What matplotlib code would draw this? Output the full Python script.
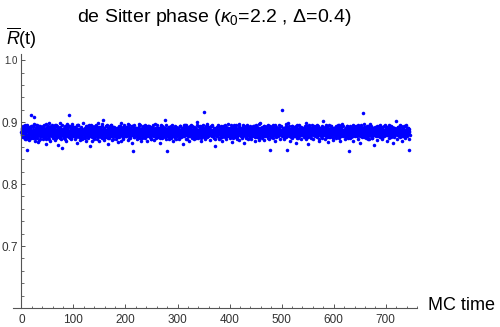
import numpy as np
import matplotlib
matplotlib.use('Agg')
import matplotlib.pyplot as plt
from matplotlib.ticker import MultipleLocator

plt.rcParams['font.family'] = ['Liberation Sans', 'DejaVu Sans']
plt.rcParams['mathtext.fontset'] = 'custom'
plt.rcParams['mathtext.rm'] = 'Liberation Sans'
plt.rcParams['mathtext.it'] = 'Liberation Sans:italic'

# R-bar(t) at whole MC time steps
r_bar = [
    0.884, 0.879, 0.891, 0.876, 0.887, 0.882, 0.894, 0.873, 0.886, 0.880, 0.855, 0.889, 0.877, 0.885, 0.892, 0.871, 0.883, 0.888, 0.875, 0.911,
    0.881, 0.886, 0.874, 0.893, 0.879, 0.909, 0.884, 0.870, 0.890, 0.882, 0.877, 0.895, 0.868, 0.887, 0.880, 0.885, 0.873, 0.891, 0.878, 0.884,
    0.889, 0.872, 0.883, 0.896, 0.876, 0.881, 0.888, 0.865, 0.885, 0.892, 0.879, 0.874, 0.887, 0.883, 0.898, 0.870, 0.882, 0.886, 0.877, 0.890,
    0.875, 0.884, 0.893, 0.880, 0.871, 0.887, 0.882, 0.895, 0.878, 0.885, 0.863, 0.889, 0.881, 0.876, 0.892, 0.884, 0.873, 0.886, 0.879, 0.858,
    0.888, 0.882, 0.874, 0.891, 0.885, 0.869, 0.883, 0.897, 0.878, 0.886, 0.880, 0.893, 0.911, 0.875, 0.884, 0.889, 0.872, 0.881, 0.894, 0.877,
    0.885, 0.879, 0.890, 0.873, 0.884, 0.887, 0.866, 0.882, 0.895, 0.880, 0.876, 0.888, 0.883, 0.871, 0.892, 0.878, 0.886, 0.881, 0.899, 0.874,
    0.883, 0.889, 0.877, 0.885, 0.870, 0.891, 0.880, 0.886, 0.874, 0.894, 0.882, 0.862, 0.887, 0.879, 0.884, 0.893, 0.876, 0.888, 0.881, 0.872,
    0.890, 0.884, 0.878, 0.896, 0.882, 0.873, 0.887, 0.880, 0.885, 0.869, 0.892, 0.877, 0.883, 0.889, 0.875, 0.886, 0.903, 0.879, 0.884, 0.871,
    0.881, 0.887, 0.893, 0.876, 0.885, 0.879, 0.864, 0.888, 0.882, 0.874, 0.890, 0.884, 0.878, 0.895, 0.880, 0.886, 0.872, 0.883, 0.889, 0.877,
    0.886, 0.873, 0.882, 0.891, 0.879, 0.885, 0.868, 0.888, 0.876, 0.894, 0.881, 0.884, 0.870, 0.887, 0.880, 0.892, 0.875, 0.883, 0.878, 0.889,
    0.884, 0.877, 0.890, 0.882, 0.871, 0.886, 0.879, 0.895, 0.883, 0.874, 0.888, 0.880, 0.866, 0.885, 0.892, 0.853, 0.881, 0.876, 0.887, 0.883,
    0.878, 0.891, 0.884, 0.872, 0.886, 0.880, 0.897, 0.875, 0.883, 0.889, 0.870, 0.885, 0.879, 0.893, 0.882, 0.876, 0.888, 0.874, 0.884, 0.890,
    0.881, 0.869, 0.887, 0.883, 0.894, 0.877, 0.885, 0.880, 0.892, 0.873, 0.886, 0.882, 0.878, 0.896, 0.884, 0.871, 0.889, 0.880, 0.875, 0.887,
    0.883, 0.891, 0.876, 0.884, 0.879, 0.888, 0.867, 0.885, 0.893, 0.881, 0.874, 0.890, 0.882, 0.877, 0.886, 0.904, 0.880, 0.872, 0.884, 0.853,
    0.889, 0.878, 0.885, 0.892, 0.873, 0.883, 0.887, 0.880, 0.876, 0.895, 0.882, 0.869, 0.886, 0.879, 0.891, 0.884, 0.874, 0.888, 0.881, 0.877,
    0.885, 0.890, 0.872, 0.883, 0.879, 0.894, 0.886, 0.876, 0.881, 0.889, 0.865, 0.884, 0.892, 0.878, 0.887, 0.882, 0.873, 0.896, 0.880, 0.885,
    0.877, 0.883, 0.891, 0.870, 0.886, 0.881, 0.888, 0.875, 0.893, 0.884, 0.879, 0.887, 0.872, 0.882, 0.890, 0.876, 0.885, 0.901, 0.880, 0.874,
    0.888, 0.882, 0.878, 0.892, 0.884, 0.869, 0.886, 0.880, 0.895, 0.877, 0.916, 0.883, 0.889, 0.873, 0.885, 0.881, 0.893, 0.876, 0.887, 0.882,
    0.879, 0.890, 0.884, 0.871, 0.886, 0.883, 0.877, 0.894, 0.880, 0.888, 0.874, 0.885, 0.862, 0.891, 0.882, 0.878, 0.887, 0.884, 0.896, 0.873,
    0.886, 0.881, 0.875, 0.889, 0.883, 0.892, 0.870, 0.885, 0.879, 0.887, 0.882, 0.876, 0.893, 0.884, 0.872, 0.888, 0.880, 0.897, 0.877, 0.883,
    0.890, 0.874, 0.884, 0.881, 0.887, 0.868, 0.885, 0.892, 0.879, 0.883, 0.876, 0.889, 0.882, 0.895, 0.873, 0.886, 0.880, 0.884, 0.871, 0.891,
    0.882, 0.878, 0.888, 0.885, 0.875, 0.893, 0.881, 0.866, 0.887, 0.883, 0.890, 0.877, 0.884, 0.879, 0.896, 0.872, 0.886, 0.882, 0.889, 0.876,
    0.884, 0.891, 0.873, 0.880, 0.887, 0.883, 0.894, 0.878, 0.885, 0.870, 0.882, 0.888, 0.876, 0.892, 0.881, 0.886, 0.874, 0.884, 0.899, 0.879,
    0.887, 0.882, 0.875, 0.890, 0.884, 0.879, 0.893, 0.871, 0.886, 0.881, 0.888, 0.877, 0.883, 0.895, 0.880, 0.885, 0.873, 0.855, 0.889, 0.882,
    0.878, 0.886, 0.891, 0.874, 0.884, 0.880, 0.887, 0.869, 0.893, 0.882, 0.876, 0.889, 0.885, 0.879, 0.896, 0.883, 0.872, 0.888, 0.881, 0.884,
    0.919, 0.877, 0.885, 0.890, 0.873, 0.883, 0.888, 0.880, 0.894, 0.876, 0.886, 0.855, 0.882, 0.891, 0.879, 0.884, 0.870, 0.887, 0.881, 0.893,
    0.875, 0.885, 0.882, 0.889, 0.878, 0.892, 0.884, 0.867, 0.886, 0.880, 0.895, 0.874, 0.883, 0.888, 0.877, 0.890, 0.881, 0.886, 0.872, 0.884,
    0.891, 0.879, 0.885, 0.876, 0.887, 0.882, 0.898, 0.873, 0.884, 0.889, 0.880, 0.864, 0.886, 0.893, 0.878, 0.883, 0.890, 0.875, 0.885, 0.881,
    0.887, 0.872, 0.884, 0.892, 0.879, 0.886, 0.881, 0.895, 0.876, 0.883, 0.889, 0.870, 0.885, 0.880, 0.891, 0.877, 0.888, 0.882, 0.874, 0.902,
    0.884, 0.880, 0.887, 0.873, 0.890, 0.883, 0.878, 0.894, 0.881, 0.886, 0.868, 0.888, 0.882, 0.876, 0.893, 0.885, 0.879, 0.889, 0.871, 0.884,
    0.886, 0.891, 0.877, 0.883, 0.888, 0.874, 0.885, 0.880, 0.896, 0.882, 0.875, 0.890, 0.884, 0.869, 0.887, 0.881, 0.893, 0.878, 0.885, 0.883,
    0.879, 0.888, 0.872, 0.886, 0.882, 0.894, 0.876, 0.884, 0.890, 0.853, 0.881, 0.887, 0.874, 0.892, 0.883, 0.878, 0.889, 0.885, 0.870, 0.886,
    0.882, 0.877, 0.891, 0.884, 0.880, 0.888, 0.873, 0.895, 0.883, 0.879, 0.886, 0.866, 0.890, 0.881, 0.885, 0.876, 0.915, 0.884, 0.892, 0.878,
    0.887, 0.883, 0.875, 0.889, 0.881, 0.893, 0.872, 0.886, 0.880, 0.884, 0.897, 0.877, 0.888, 0.882, 0.874, 0.891, 0.885, 0.879, 0.863, 0.886,
    0.883, 0.890, 0.878, 0.885, 0.871, 0.887, 0.882, 0.894, 0.876, 0.884, 0.889, 0.880, 0.873, 0.892, 0.886, 0.881, 0.877, 0.888, 0.884, 0.896,
    0.879, 0.885, 0.870, 0.891, 0.883, 0.887, 0.875, 0.882, 0.893, 0.878, 0.886, 0.881, 0.889, 0.867, 0.884, 0.890, 0.876, 0.885, 0.880, 0.902,
    0.887, 0.873, 0.884, 0.892, 0.879, 0.886, 0.882, 0.895, 0.876, 0.888, 0.881, 0.870, 0.885, 0.890, 0.878, 0.884, 0.893, 0.874, 0.886, 0.880,
    0.889, 0.877, 0.884, 0.891, 0.872, 0.855,
]

# intermediate samples (t + 1/3 and t + 2/3), in thousandths above 0.850
r_third = [
    31, 38, 26, 43, 35, 29, 40, 33, 22, 37, 45, 28, 34, 41, 30, 36, 24, 39, 32, 44,
    27, 35, 42, 30, 38, 33, 25, 46, 31, 36, 29, 40, 34, 21, 37, 43, 28, 35, 32, 39,
    36, 30, 44, 26, 33, 39, 31, 47, 28, 35, 41, 34, 23, 38, 30, 36, 43, 29, 37, 32,
    40, 33, 27, 36, 45, 31, 38, 24, 35, 42, 30, 37, 33, 48, 26, 34, 39, 31, 36, 28,
    34, 41, 30, 37, 22, 35, 43, 32, 38, 27, 36, 31, 44, 29, 34, 40, 25, 37, 33, 39,
    29, 36, 42, 33, 38, 26, 35, 31, 46, 34, 28, 39, 32, 37, 24, 41, 35, 30, 38, 33,
    37, 31, 25, 40, 34, 43, 29, 36, 32, 38, 45, 27, 35, 30, 41, 33, 20, 37, 34, 39,
    32, 44, 35, 28, 37, 33, 40, 26, 38, 31, 36, 42, 29, 34, 47, 30, 37, 33, 25, 39,
    35, 29, 38, 43, 31, 36, 24, 40, 34, 30, 37, 45, 32, 27, 39, 35, 42, 28, 36, 33,
    41, 34, 30, 36, 26, 39, 33, 44, 29, 37, 31, 35, 48, 32, 38, 23, 36, 40, 30, 34,
    28, 37, 42, 33, 39, 30, 35, 25, 41, 34, 38, 29, 36, 43, 31, 37, 33, 46, 27, 35,
    38, 31, 36, 24, 40, 34, 29, 45, 33, 37, 30, 41, 35, 26, 39, 32, 36, 43, 28, 34,
    33, 40, 27, 37, 31, 44, 35, 30, 38, 22, 36, 42, 32, 34, 29, 39, 47, 31, 37, 35,
    30, 36, 41, 28, 38, 33, 25, 40, 35, 31, 43, 37, 29, 34, 39, 26, 36, 32, 45, 38,
    36, 27, 34, 42, 30, 37, 33, 39, 24, 35, 41, 31, 38, 28, 36, 44, 32, 37, 30, 40,
    34, 39, 31, 25, 37, 43, 29, 35, 40, 33, 27, 38, 46, 32, 36, 30, 41, 34, 23, 37,
    39, 32, 36, 44, 28, 35, 31, 38, 33, 42, 30, 37, 26, 40, 34, 29, 36, 45, 32, 38,
    31, 37, 43, 30, 35, 24, 39, 34, 41, 29, 36, 33, 38, 27, 44, 32, 37, 30, 40, 35,
    42, 29, 35, 38, 32, 46, 27, 36, 31, 39, 34, 22, 37, 41, 30, 35, 28, 43, 33, 36,
    35, 40, 30, 33, 39, 26, 37, 44, 31, 36, 29, 38, 34, 42, 27, 35, 40, 32, 37, 30,
    37, 31, 45, 28, 36, 34, 40, 25, 38, 33, 43, 30, 35, 39, 29, 37, 32, 47, 34, 36,
    30, 38, 34, 41, 27, 36, 32, 39, 44, 31, 35, 24, 40, 33, 37, 29, 42, 35, 31, 38,
    36, 33, 28, 37, 43, 30, 39, 34, 26, 38, 32, 45, 29, 36, 41, 33, 37, 21, 35, 40,
    33, 41, 36, 29, 38, 32, 44, 27, 35, 40, 31, 37, 34, 25, 39, 36, 30, 43, 33, 37,
    39, 28, 35, 42, 31, 37, 33, 46, 30, 36, 40, 27, 38, 34, 29, 41, 35, 32, 44, 31,
    34, 38, 30, 36, 25, 40, 33, 37, 42, 29, 35, 31, 48, 36, 27, 39, 34, 30, 38, 43,
    31, 36, 41, 33, 38, 28, 35, 44, 30, 37, 24, 39, 34, 32, 40, 36, 29, 42, 33, 37,
    38, 32, 27, 40, 35, 43, 30, 36, 33, 39, 26, 37, 45, 31, 35, 29, 41, 34, 38, 30,
    35, 40, 33, 29, 37, 31, 44, 36, 28, 38, 34, 41, 23, 37, 32, 39, 35, 30, 43, 36,
    29, 37, 42, 34, 31, 38, 26, 40, 35, 33, 45, 30, 36, 39, 28, 34, 41, 32, 37, 24,
    40, 34, 31, 37, 44, 29, 36, 33, 39, 27, 38, 42, 32, 35, 30, 47, 34, 37, 31, 36,
    33, 39, 28, 35, 41, 32, 37, 25, 38, 34, 30, 43, 36, 31, 40, 35, 27, 38, 33, 44,
    37, 30, 36, 43, 27, 39, 34, 31, 42, 35, 38, 29, 33, 46, 32, 36, 40, 26, 37, 34,
    31, 42, 35, 28, 38, 33, 40, 36, 22, 37, 31, 44, 34, 39, 29, 36, 32, 41, 35, 30,
    38, 33, 44, 30, 36, 27, 39, 35, 32, 41, 34, 37, 25, 40, 31, 36, 43, 33, 29, 38,
    34, 40, 29, 37, 32, 45, 31, 38, 35, 26, 39, 33, 42, 30, 36, 41, 28, 37, 34, 39,
    36, 31, 38, 42, 33, 27, 40, 35, 44, 30, 37, 32, 39, 34, 28, 43, 36, 31, 38, 35,
    41, 30, 37, 33, 39, 34,
]
r_two_thirds = [
    39, 33, 28, 42, 36, 31, 45, 34, 38, 26, 35, 41, 30, 37, 33, 24, 40, 36, 29, 43,
    35, 30, 38, 33, 47, 28, 36, 41, 32, 39, 25, 37, 34, 43, 29, 36, 31, 40, 35, 27,
    32, 41, 36, 29, 38, 34, 23, 40, 35, 31, 44, 33, 37, 28, 42, 36, 30, 39, 33, 46,
    37, 29, 41, 35, 31, 38, 34, 27, 43, 32, 36, 40, 30, 35, 25, 39, 33, 45, 31, 37,
    30, 36, 33, 44, 28, 39, 35, 31, 37, 42, 26, 34, 38, 32, 41, 29, 36, 47, 33, 35,
    42, 34, 28, 37, 32, 40, 36, 45, 30, 35, 39, 27, 33, 41, 31, 37, 22, 38, 34, 29,
    35, 40, 32, 36, 43, 29, 38, 33, 27, 41, 34, 37, 31, 46, 35, 30, 39, 36, 25, 38,
    33, 27, 39, 31, 36, 42, 34, 48, 29, 37, 32, 40, 35, 26, 38, 44, 31, 36, 33, 41,
    38, 35, 30, 45, 33, 27, 37, 41, 31, 36, 43, 29, 39, 34, 21, 38, 32, 37, 42, 30,
    31, 39, 36, 28, 40, 34, 32, 37, 44, 30, 35, 41, 27, 36, 33, 39, 46, 31, 35, 38,
    36, 42, 29, 38, 33, 47, 31, 35, 28, 40, 34, 37, 43, 30, 36, 26, 39, 33, 41, 32,
    40, 30, 37, 34, 27, 39, 43, 32, 36, 29, 38, 35, 24, 41, 33, 37, 31, 45, 34, 36,
    29, 37, 44, 31, 35, 40, 26, 38, 33, 36, 42, 30, 39, 34, 28, 37, 32, 41, 35, 45,
    37, 33, 30, 41, 36, 28, 39, 34, 46, 31, 35, 38, 42, 27, 36, 33, 40, 29, 37, 32,
    34, 41, 36, 26, 38, 32, 44, 30, 37, 35, 28, 40, 33, 39, 31, 36, 23, 42, 35, 38,
    40, 31, 35, 38, 43, 29, 36, 33, 27, 41, 37, 32, 39, 34, 45, 30, 36, 38, 31, 42,
    32, 37, 28, 40, 35, 33, 46, 31, 38, 29, 36, 42, 34, 37, 25, 39, 33, 30, 44, 36,
    38, 34, 41, 29, 37, 32, 35, 43, 30, 39, 26, 36, 33, 40, 31, 38, 47, 34, 28, 37,
    33, 39, 30, 36, 44, 34, 31, 38, 27, 41, 35, 37, 32, 29, 40, 36, 42, 33, 38, 24,
    36, 32, 43, 35, 28, 40, 37, 31, 39, 34, 46, 30, 36, 33, 38, 27, 41, 35, 32, 39,
    31, 38, 34, 27, 41, 36, 32, 45, 29, 37, 35, 40, 33, 26, 39, 34, 38, 31, 43, 36,
    41, 35, 30, 38, 33, 46, 28, 37, 34, 40, 31, 36, 42, 29, 35, 38, 25, 37, 33, 44,
    34, 29, 40, 36, 31, 37, 43, 33, 38, 28, 41, 35, 30, 39, 34, 47, 32, 36, 27, 38,
    37, 42, 33, 30, 38, 35, 28, 41, 36, 32, 39, 44, 31, 37, 34, 29, 40, 33, 38, 26,
    33, 36, 45, 31, 37, 29, 40, 34, 38, 42, 30, 35, 27, 39, 36, 33, 43, 31, 37, 35,
    30, 39, 35, 41, 28, 36, 33, 47, 32, 38, 34, 40, 29, 37, 44, 31, 35, 39, 26, 36,
    38, 33, 29, 37, 42, 31, 39, 35, 27, 40, 36, 32, 45, 34, 30, 38, 41, 33, 36, 29,
    35, 41, 37, 30, 34, 39, 25, 38, 33, 43, 31, 36, 40, 28, 37, 34, 32, 46, 35, 39,
    31, 36, 43, 34, 27, 40, 35, 32, 38, 30, 44, 37, 33, 39, 29, 36, 42, 31, 35, 38,
    40, 34, 30, 37, 45, 32, 36, 29, 41, 35, 38, 26, 39, 33, 37, 43, 30, 36, 34, 41,
    33, 38, 35, 28, 39, 31, 42, 36, 33, 46, 30, 37, 34, 40, 27, 38, 32, 36, 44, 31,
    37, 32, 40, 35, 30, 43, 34, 38, 29, 36, 41, 33, 26, 39, 35, 31, 37, 45, 32, 38,
    29, 41, 34, 37, 33, 39, 31, 44, 36, 28, 38, 35, 42, 32, 37, 30, 34, 39, 47, 33,
    36, 30, 38, 43, 32, 35, 27, 40, 34, 37, 31, 39, 36, 24, 41, 33, 38, 30, 36, 42,
    34, 39, 31, 36, 41, 29, 37, 33, 45, 35, 30, 38, 34, 40, 28, 36, 32, 43, 37, 31,
    38, 33, 42, 30, 36, 34, 40, 27, 37, 44, 32, 35, 39, 31, 36, 29, 41, 34, 38, 33,
    32, 40, 35, 29, 38, 36, 31, 43, 34, 37, 27, 39, 33, 42, 35, 30, 38, 36, 45, 32,
    37, 34, 40, 31, 36, 29,
]

x_ticks = [0, 100, 200, 300, 400, 500, 600, 700]
y_ticks = [0.7, 0.8, 0.9, 1.0]

# build the time axis and values for all samples
t_all = np.concatenate([
    np.arange(len(r_bar)),
    np.arange(len(r_third)) + 1 / 3,
    np.arange(len(r_two_thirds)) + 2 / 3,
])
r_all = np.concatenate([
    np.array(r_bar),
    0.85 + np.array(r_third) / 1000,
    0.85 + np.array(r_two_thirds) / 1000,
])

fig = plt.figure(figsize=(5, 3.27), dpi=100)
ax = fig.add_axes([0.026, 0.058, 0.808, 0.777])

ax.scatter(t_all, r_all, s=6.5, color='#0000ff', linewidths=0)

ax.set_xlim(-16, 760)
ax.set_ylim(0.6, 1.01)

axis_col = '#555555'
for s in ['top', 'right']:
    ax.spines[s].set_visible(False)
ax.spines['left'].set_position(('data', 0))
ax.spines['left'].set_color(axis_col)
ax.spines['bottom'].set_color(axis_col)
ax.spines['left'].set_linewidth(0.8)
ax.spines['bottom'].set_linewidth(0.8)

ax.set_xticks(x_ticks)
ax.set_yticks(y_ticks)
ax.set_yticklabels(['%.1f' % v for v in y_ticks])
ax.xaxis.set_minor_locator(MultipleLocator(20))
ax.yaxis.set_minor_locator(MultipleLocator(0.02))
ax.tick_params(which='both', direction='in', color=axis_col, labelcolor='#333333', labelsize=8.5)
ax.tick_params(which='major', length=3.2, width=0.7)
ax.tick_params(which='minor', length=1.8, width=0.6)
ax.tick_params(axis='x', pad=4)
ax.tick_params(axis='y', pad=2.5)
ax.get_yticklabels()[-1].set_fontsize(7)

fig.text(214 / 500, 1 - 17 / 327, r'de Sitter phase ($\kappa_0$=2.2 , Δ=0.4)',
         ha='center', va='center', fontsize=14)
fig.text(6 / 500, 1 - 38 / 327, r'$\overline{R}$(t)', ha='left', va='center', fontsize=13)
fig.text(428 / 500, 1 - 305 / 327, 'MC time', ha='left', va='center', fontsize=13)

plt.savefig('out.png', dpi=100)
